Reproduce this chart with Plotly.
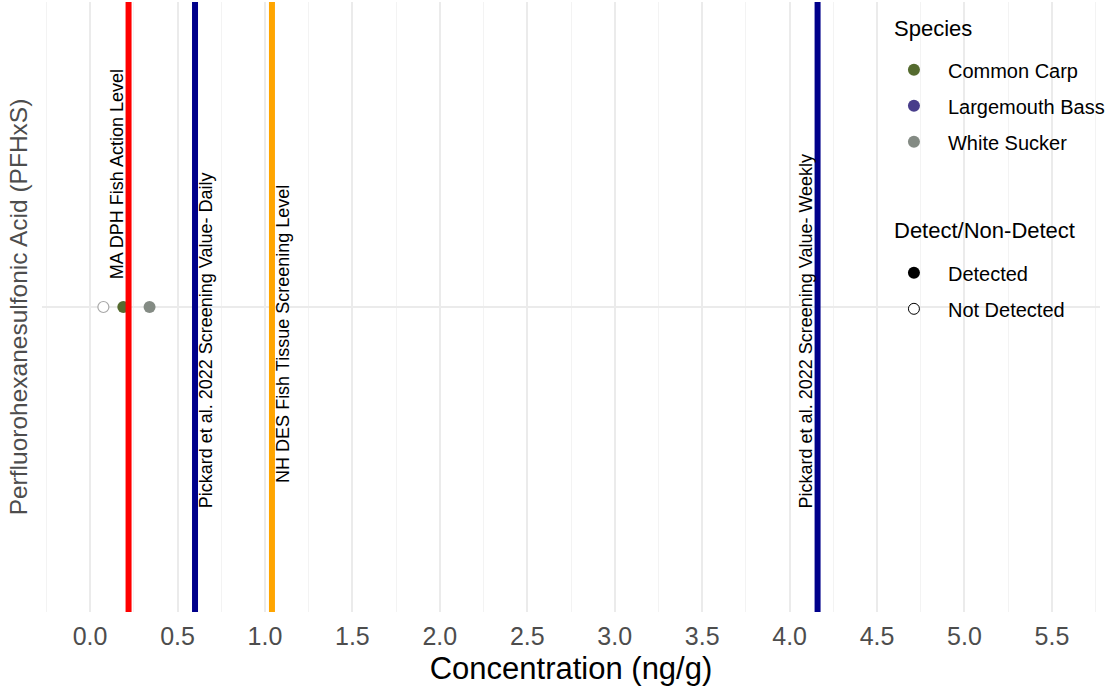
import plotly.graph_objects as go

# ---------------- data ----------------
param = ["PFHxS"]

species_names = ["Common Carp", "Largemouth Bass", "White Sucker"]
species_colors = ["#556B2F", "#483D8B", "#848B84"]
detect_labels = ["Detected", "Not Detected"]
legend_titles = ["Species", "Detect/Non-Detect"]

pt_species = ["Largemouth Bass", "Common Carp", "White Sucker"]
pt_conc = [0.076, 0.19, 0.34]
pt_detected = [False, True, True]

ref_labels = [
    "MA DPH Fish Action Level",
    "Pickard et al. 2022 Screening Value- Daily",
    "NH DES Fish Tissue Screening Level",
    "Pickard et al. 2022 Screening Value- Weekly",
]
ref_values = [0.22, 0.6, 1.04, 4.16]
ref_colors = ["#FF0000", "#00008B", "#FFA500", "#00008B"]
ref_label_side = ["left", "right", "right", "left"]
ref_label_y = [0.05, -0.4, -0.35, -0.4]   # category-axis offsets where label text starts

x_ticks = [i * 0.5 for i in range(12)]

FONT = "Liberation Sans, Arial, sans-serif"

fig = go.Figure()

# data points
col_of = dict(zip(species_names, species_colors))
for sp, c, det in zip(pt_species, pt_conc, pt_detected):
    if det:
        marker = dict(color=col_of[sp], size=12, line=dict(width=0))
    else:
        marker = dict(color="white", size=11, line=dict(color="#A8A8A8", width=1.2))
    fig.add_trace(go.Scatter(x=[c], y=param, mode="markers", marker=marker,
                             showlegend=False, hoverinfo="skip"))

# legend entries: species
for sp, col in zip(species_names, species_colors):
    fig.add_trace(go.Scatter(x=[None], y=[None], mode="markers", name=sp,
                             marker=dict(color=col, size=12), legend="legend",
                             legendgroup=sp))
# legend entries: detect / non-detect
fig.add_trace(go.Scatter(x=[None], y=[None], mode="markers", name=detect_labels[0],
                         marker=dict(color="black", size=12), legend="legend2",
                         legendgroup="d1"))
fig.add_trace(go.Scatter(x=[None], y=[None], mode="markers", name=detect_labels[1],
                         marker=dict(color="white", size=11, line=dict(color="black", width=1)),
                         legend="legend2", legendgroup="d2"))

# reference lines + labels
for lab, v, c, side, ly in zip(ref_labels, ref_values, ref_colors, ref_label_side, ref_label_y):
    fig.add_vline(x=v, line=dict(color=c, width=6), layer="above")
    fig.add_annotation(x=v, y=ly, xref="x", yref="y", text=lab, textangle=-90,
                       showarrow=False, yanchor="bottom",
                       xanchor="right" if side == "left" else "left",
                       xshift=0 if side == "left" else -1,
                       font=dict(family=FONT, size=18, color="black"))

# legend background boxes (cover grid lines like the reference legend panel)
for y0, y1 in [(0.721, 1.0), (0.459, 0.667)]:
    fig.add_shape(type="rect", xref="paper", yref="paper", x0=0.790, x1=1.0, y0=y0, y1=y1,
                  fillcolor="white", line=dict(width=0), layer="between")

# legend titles
for t, ty in zip(legend_titles, [0.957, 0.6246]):
    fig.add_annotation(x=0.8035, y=ty, xref="paper", yref="paper", text=t, showarrow=False,
                       xanchor="left", yanchor="middle",
                       font=dict(family=FONT, size=22, color="black"))

fig.update_xaxes(
    range=[-0.275, 5.775], tickvals=x_ticks, tickformat=".1f",
    showgrid=True, gridcolor="#EBEBEB", gridwidth=2.4,
    minor=dict(dtick=0.25, tick0=0, showgrid=True, gridcolor="#F3F3F3", gridwidth=1.2),
    zeroline=False, showline=False, ticks="", automargin=False,
    tickfont=dict(family=FONT, size=25, color="#4D4D4D"),
    ticklabelstandoff=7,
    title=dict(text="Concentration (ng/g)", font=dict(family=FONT, size=31, color="black"),
               standoff=8),
)
fig.update_yaxes(
    type="category", range=[-0.6, 0.6], showticklabels=False, automargin=False,
    showgrid=True, gridcolor="#EBEBEB", gridwidth=2.4, zeroline=False, ticks="",
    title=dict(text="Perfluorohexanesulfonic Acid (PFHxS)",
               font=dict(family=FONT, size=24.5, color="#4D4D4D"), standoff=6),
)

legend_common = dict(bgcolor="rgba(0,0,0,0)", borderwidth=0, xanchor="left", yanchor="top",
                     font=dict(family=FONT, size=20, color="black"),
                     tracegroupgap=7, itemwidth=58)
fig.update_layout(
    width=1110, height=689,
    margin=dict(l=42, r=10, t=2, b=77, autoexpand=False),
    paper_bgcolor="white", plot_bgcolor="white",
    font=dict(family=FONT),
    legend=dict(x=0.792, y=0.921, **legend_common),
    legend2=dict(x=0.792, y=0.588, **legend_common),
)

fig.write_html("out.html", config={"displayModeBar": False},
               post_script="document.body.style.margin='0';")
